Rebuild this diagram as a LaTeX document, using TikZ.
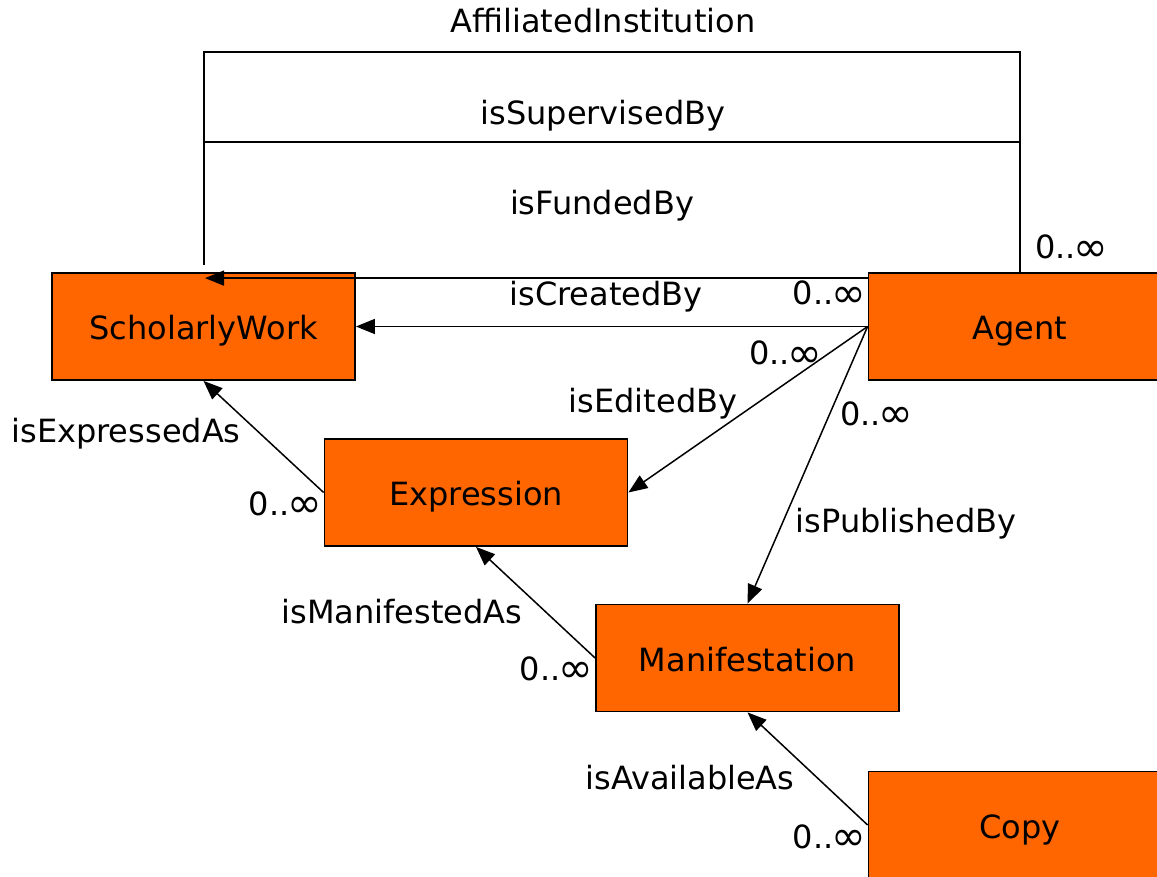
\documentclass[tikz,border=0pt]{standalone}
\usepackage{fontspec}
\setmainfont{DejaVu Sans}
\usetikzlibrary{arrows.meta,calc}
\definecolor{boxorange}{HTML}{FF6600}
\newcommand{\infsym}{\kern-2.5pt\raisebox{-2.5pt}{\scalebox{1.3}{∞}}}
\begin{document}
\begin{tikzpicture}[x=1pt,y=-1pt,
  every node/.style={font=\fontsize{32}{38}\selectfont},
  entity/.style={draw=black, line width=1.8pt, fill=boxorange, minimum width=303pt, minimum height=107pt, inner sep=0pt, text height=26pt, text depth=0pt},
  lbl/.style={anchor=base, inner sep=0pt},
  lble/.style={anchor=base east, inner sep=0pt},
  lblw/.style={anchor=base west, inner sep=0pt},
  conn/.style={line width=1.5pt, -{Triangle[length=19pt,width=15pt]}},
  plainline/.style={line width=1.5pt}]
\path[use as bounding box, clip] (0,0) rectangle (1157,877);
\fill[white] (0,0) rectangle (1157,877);

% entities
\node[entity] (SW) at (203.5,326.5) {ScholarlyWork};
\node[entity] (Agent) at (1020,326.5) {Agent};
\node[entity] (Expr) at (476,492.5) {Expression};
\node[entity] (Manif) at (747.5,658) {Manifestation};
\node[entity] (Copy) at (1020,825) {Copy};

% top frame
\coordinate (tl) at (204,52);
\coordinate (tr) at (1020,52);
\coordinate (ml) at (204,142);
\coordinate (mr) at (1020,142);
\coordinate (le) at (204,265);
\draw[plainline] (le) -- (tl) -- (tr) -- (Agent.north);
\draw[plainline] (ml) -- (mr);

% connectors
\coordinate (fundA) at ($(Agent.north west)+(0,6)$);
\coordinate (fundS) at ($(SW.north)+(1.5,6)$);
\draw[conn] (fundA) -- (fundS);
\draw[conn] (Agent.west) -- (SW.east);
\draw[conn] (Agent.west) -- (Expr.east);
\draw[conn] (Agent.west) -- (Manif.north);
\draw[conn] (Expr.west) -- (SW.south);
\draw[conn] (Manif.west) -- (Expr.south);
\draw[conn] (Copy.west) -- (Manif.south);

% labels
\node[lbl] (lAff) at (603,33) {AffiliatedInstitution};
\node[lbl] (lSup) at (603,125) {isSupervisedBy};
\node[lbl] (lFund) at (602,215) {isFundedBy};
\node[lbl] (lCre) at (606,306) {isCreatedBy};
\node[lble] (m1) at (866,305) {0..\infsym};
\node[lblw] (m2) at (1035,259) {0..\infsym};
\node[lblw] (m3) at (749,365) {0..\infsym};
\node[lbl] (lEd) at (653,412) {isEditedBy};
\node[lblw] (m4) at (840,425) {0..\infsym};
\node[lbl] (lPub) at (906,532) {isPublishedBy};
\node[lbl] (lExp) at (126,442) {isExpressedAs};
\node[lble] (m5) at (322,515) {0..\infsym};
\node[lbl] (lMan) at (402,623) {isManifestedAs};
\node[lble] (m6) at (593,680) {0..\infsym};
\node[lbl] (lAv) at (690,789) {isAvailableAs};
\node[lble] (m7) at (866,848) {0..\infsym};
\end{tikzpicture}
\end{document}
